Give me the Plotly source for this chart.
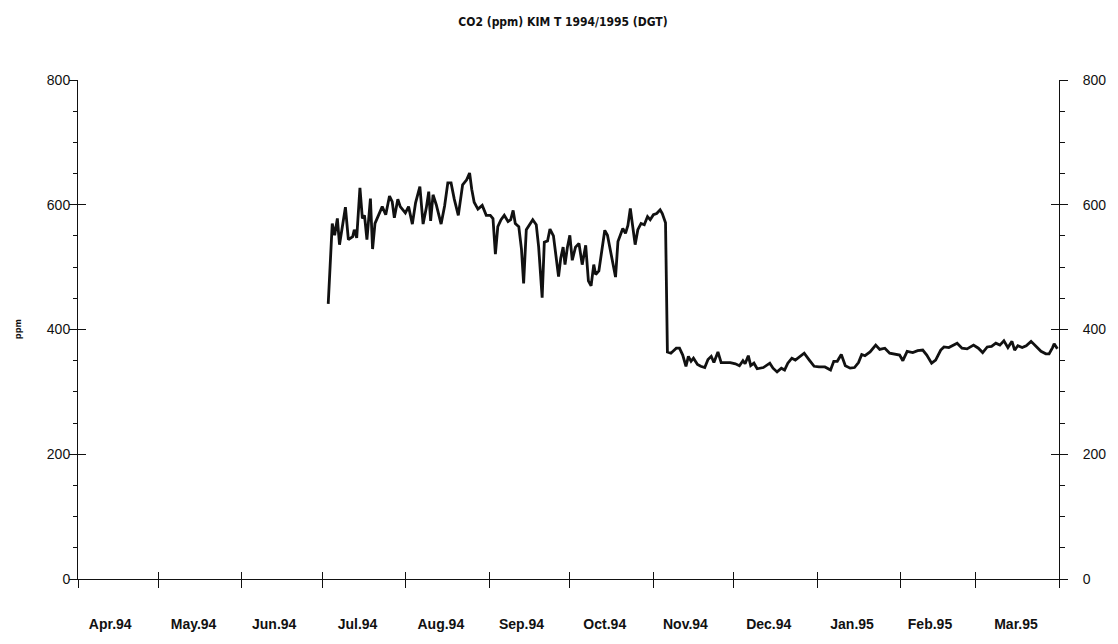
import plotly.graph_objects as go
import pandas as pd

# ---- data ----
start_date = "1994-04-01"
day_offset = [
    93.1, 94.6, 95.5, 96.5, 97.3, 98.2, 99.5, 100.6, 102.2, 102.8, 103.7, 104.9, 105.8, 106.6,
    107.5, 108.8, 109.6, 110.5, 111.6, 113.2, 114.5, 115.9, 116.9, 117.7, 119.0, 119.9, 121.8,
    123.0, 124.4, 125.6, 127.2, 128.4, 129.6, 130.5, 131.2, 132.1, 133.3, 135.1, 136.4, 137.6,
    138.8, 140.0, 141.5, 143.1, 144.6, 145.7, 146.5, 147.4, 148.8, 150.4, 151.9, 153.4, 154.4,
    155.3, 156.2, 157.4, 158.6, 160.0, 161.0, 161.9, 162.7, 164.0, 165.0, 165.8, 166.8, 168.0,
    169.2, 170.5, 171.4, 172.7, 173.5, 174.7, 175.6, 176.9, 178.0, 178.8, 179.6, 180.5, 181.2,
    182.1, 183.0, 183.9, 185.1, 186.4, 187.6, 188.4, 188.9, 189.9, 190.9, 191.9, 192.6, 193.8,
    195.2, 196.0, 197.0, 197.8, 199.1, 200.0, 200.9, 201.9, 202.7, 203.7, 204.6, 205.5, 206.4,
    207.3, 208.3, 209.5, 210.7, 211.9, 212.9, 214.1, 215.3, 216.6, 217.4, 218.6, 219.3, 220.6,
    222.6, 223.8, 225.0, 226.2, 227.1, 228.1, 229.0, 230.5, 231.7, 233.2, 234.4, 235.6, 236.6,
    238.1, 239.3, 240.9, 242.7, 244.6, 246.1, 247.4, 248.2, 249.4, 250.3, 251.5, 252.7, 255.0,
    257.4, 258.6, 260.1, 261.7, 262.9, 264.1, 265.6, 266.9, 268.4, 270.2, 272.1, 273.9, 275.7,
    277.9, 280.0, 281.2, 282.5, 284.0, 285.5, 287.3, 288.9, 290.4, 291.6, 292.8, 294.7, 296.8,
    298.3, 300.2, 302.0, 303.8, 305.7, 306.9, 308.5, 310.6, 312.4, 314.3, 315.8, 317.6, 319.1,
    321.0, 322.2, 324.0, 325.9, 327.1, 328.9, 330.8, 333.2, 335.0, 336.6, 338.3, 339.9, 341.5,
    343.0, 344.5, 346.0, 347.5, 348.5, 349.7, 351.3, 352.8, 354.6, 356.5, 358.3, 360.1, 361.3,
    362.6, 363.2, 364.4,
]
co2_ppm = [
    441, 570, 551, 578, 536, 559, 596, 544, 549, 560, 547, 627, 578, 583,
    544, 610, 529, 570, 581, 597, 584, 614, 605, 579, 609, 597, 587,
    597, 569, 603, 629, 569, 595, 621, 574, 616, 600, 569, 598, 635,
    635, 609, 583, 632, 640, 651, 625, 604, 593, 599, 583, 583, 578,
    521, 565, 576, 583, 573, 576, 591, 570, 565, 529, 474, 560, 568,
    576, 568, 532, 451, 540, 542, 561, 550, 511, 485, 514, 532, 504,
    532, 551, 511, 532, 538, 504, 525, 535, 478, 470, 504, 488, 494,
    541, 559, 551, 533, 510, 484, 541, 552, 562, 554, 567, 594, 562,
    536, 560, 570, 568, 581, 576, 584, 586, 592, 586, 571, 364, 362,
    370, 370, 359, 341, 357, 349, 354, 344, 341, 339, 352, 357, 347,
    364, 347, 347, 347, 345, 342, 350, 345, 358, 342, 346, 337, 339,
    346, 338, 332, 338, 335, 346, 354, 351, 356, 362, 351, 341, 340,
    340, 335, 349, 349, 360, 342, 338, 339, 347, 360, 358, 364, 375,
    368, 370, 362, 361, 359, 350, 365, 363, 366, 367, 359, 346, 351,
    367, 372, 371, 375, 378, 370, 369, 375, 370, 363, 372, 373, 378,
    375, 382, 371, 381, 367, 374, 371, 374, 381, 372, 365, 361, 361,
    371, 377, 369,
]
month_starts = ["1994-04-01", "1994-05-01", "1994-06-01", "1994-07-01", "1994-08-01",
                "1994-09-01", "1994-10-01", "1994-11-01", "1994-12-01", "1995-01-01",
                "1995-02-01", "1995-03-01", "1995-04-01"]
month_label_pos = ["1994-04-13", "1994-05-14", "1994-06-13", "1994-07-14", "1994-08-14",
                   "1994-09-13", "1994-10-14", "1994-11-13", "1994-12-14", "1995-01-14",
                   "1995-02-12", "1995-03-16"]
month_labels = ["Apr.94", "May.94", "Jun.94", "Jul.94", "Aug.94", "Sep.94",
                "Oct.94", "Nov.94", "Dec.94", "Jan.95", "Feb.95", "Mar.95"]
y_ticks = [0, 200, 400, 600, 800]
title_text = "CO2 (ppm) KIM T 1994/1995 (DGT)"
y_title = "ppm"

# ---- figure ----
# the page body has an 8px default margin, so the figure is sized 8px smaller
W, H = 1110, 636
dates = pd.Timestamp(start_date) + pd.to_timedelta(day_offset, unit="D")
x_range = ["1994-04-01", "1995-04-01"]
y_range = [0, 800]
ink = "#111111"
font_main = "Liberation Sans, Arial, Helvetica, sans-serif"
font_narrow = "Liberation Sans Narrow, DejaVu Sans Condensed, Arial Narrow, sans-serif"

fig = go.Figure()
fig.add_trace(go.Scatter(x=dates, y=co2_ppm, mode="lines",
                         line=dict(color=ink, width=2.8), hoverinfo="skip",
                         showlegend=False))
# empty helper traces so the overlay axes are drawn
for xa, ya in [("x", "y2"), ("x", "y3"), ("x", "y4"), ("x2", "y"), ("x3", "y")]:
    fig.add_trace(go.Scatter(x=[], y=[], xaxis=xa, yaxis=ya, showlegend=False,
                             hoverinfo="skip"))

common_y = dict(range=y_range, tickvals=y_ticks, showgrid=False, zeroline=False,
                fixedrange=True)
fig.update_layout(
    width=W, height=H,
    margin=dict(l=70, r=48, t=72, b=53),
    paper_bgcolor="white", plot_bgcolor="white",
    title=dict(text=f"<b>{title_text}</b>", x=0.5, xref="container", xanchor="center",
               y=1 - 14 / H, yref="container", yanchor="middle",
               font=dict(family=font_narrow, size=12, color=ink)),
    xaxis=dict(type="date", range=x_range, tickvals=month_starts, showticklabels=False,
               ticks="outside", ticklen=8, tickwidth=1, tickcolor=ink,
               showline=True, linecolor=ink, linewidth=1, showgrid=False, zeroline=False),
    xaxis2=dict(type="date", range=x_range, overlaying="x", anchor="y", side="bottom",
                tickvals=month_starts, showticklabels=False, ticks="inside", ticklen=7,
                tickwidth=1, tickcolor=ink, showline=False, showgrid=False),
    xaxis3=dict(type="date", range=x_range, overlaying="x", anchor="y", side="bottom",
                tickvals=month_label_pos, ticktext=month_labels, ticks="", showline=False,
                showgrid=False, ticklabelstandoff=35,
                tickfont=dict(family=font_main, size=14, color=ink, weight="bold")),
    yaxis=dict(**common_y, side="left", ticks="outside", ticklen=8, tickwidth=1,
               tickcolor=ink, showline=True, linecolor=ink, linewidth=1,
               ticklabelstandoff=-4,
               tickfont=dict(family=font_main, size=14, color=ink),
               minor=dict(dtick=50, ticks="outside", ticklen=4, tickcolor=ink,
                          showgrid=False)),
    yaxis2=dict(**common_y, side="right", overlaying="y", anchor="x", ticks="outside",
                ticklen=8, tickwidth=1, tickcolor=ink, showline=True, linecolor=ink,
                linewidth=1, ticklabelstandoff=12,
                tickfont=dict(family=font_main, size=14, color=ink),
                minor=dict(dtick=50, ticks="outside", ticklen=5, tickcolor=ink,
                           showgrid=False)),
    yaxis3=dict(**common_y, side="left", overlaying="y", anchor="x", ticks="inside",
                ticklen=8, tickwidth=1, tickcolor=ink, showticklabels=False,
                showline=False),
    yaxis4=dict(**common_y, side="right", overlaying="y", anchor="x", ticks="inside",
                ticklen=8, tickwidth=1, tickcolor=ink, showticklabels=False,
                showline=False),
    annotations=[dict(text=f"<b>{y_title}</b>", xref="paper", yref="paper",
                      x=-0.0615, y=0.5, xanchor="center", yanchor="middle",
                      textangle=-90, showarrow=False,
                      font=dict(family=font_narrow, size=9, color=ink))],
)

fig.write_html("out.html")
